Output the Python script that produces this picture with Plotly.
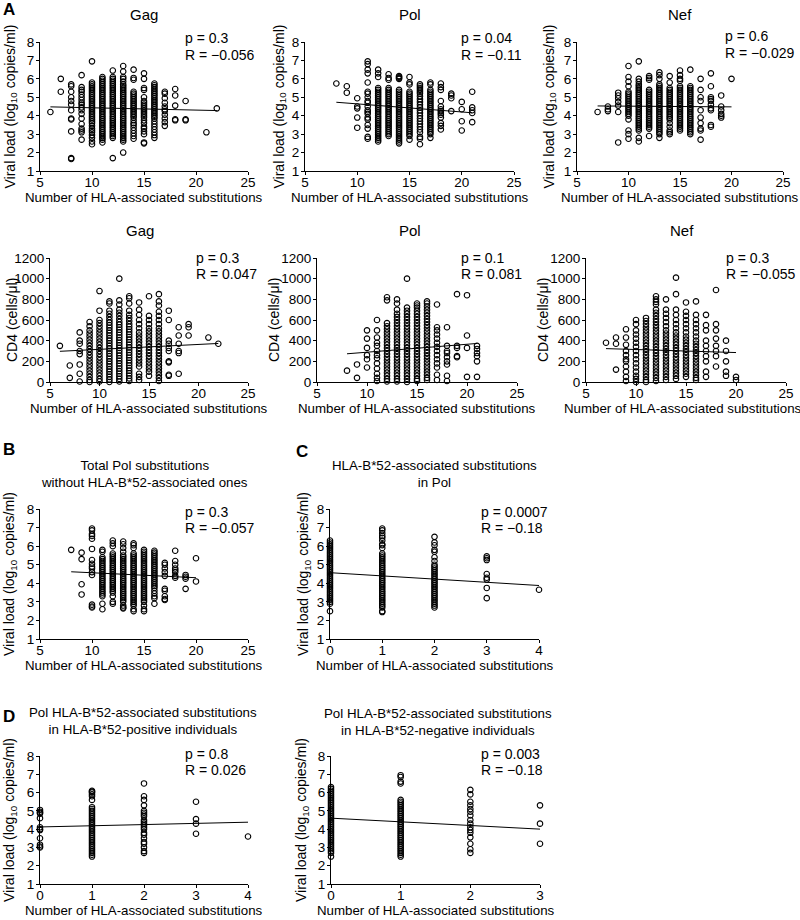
import plotly.graph_objects as go

W, H = 800, 920
FONT = "Liberation Sans, Arial, sans-serif"

## values: {number of substitutions: [y values]}
gag_vl = {
    6: [4.2],
    7: [6.0, 5.3],
    8: [5.7, 5.6, 5.3, 5.0, 4.8, 4.6, 4.3, 3.85, 3.8, 3.15, 1.7, 1.65],
    9: [6.2, 5.55, 5.4, 5.3, 5.15, 5.0, 4.85, 4.7, 4.6, 4.45, 4.3, 4.1, 3.85, 3.55, 3.3, 3.2, 3.1, 2.7],
    10: [6.95, 5.8, 5.7, 5.6, 5.5, 5.4, 5.3, 5.2, 5.1, 5.0, 4.9, 4.8, 4.7, 4.6, 4.5, 4.4, 4.3, 4.2, 4.1, 4.0,
         3.9, 3.8, 3.7, 3.6, 3.45, 3.3, 3.2, 3.1, 2.95, 2.8, 2.6, 2.45],
    11: [6.1, 6.0, 5.9, 5.8, 5.7, 5.6, 5.5, 5.4, 5.3, 5.2, 5.1, 5.0, 4.9, 4.8, 4.7, 4.6, 4.5, 4.4, 4.3, 4.2,
         4.1, 4.0, 3.9, 3.8, 3.7, 3.6, 3.5, 3.4, 3.3, 3.2, 3.1, 3.0, 2.9, 2.8, 2.7, 2.55],
    12: [6.45, 6.1, 6.0, 5.9, 5.8, 5.7, 5.6, 5.5, 5.4, 5.3, 5.2, 5.1, 5.0, 4.9, 4.8, 4.7, 4.6, 4.5, 4.4, 4.3,
         4.2, 4.1, 4.0, 3.9, 3.8, 3.7, 3.6, 3.5, 3.4, 3.3, 3.2, 3.1, 3.0, 2.9, 2.8, 1.7],
    13: [6.7, 6.4, 6.1, 6.0, 5.85, 5.7, 5.6, 5.5, 5.4, 5.3, 5.2, 5.1, 5.0, 4.9, 4.8, 4.7, 4.6, 4.5, 4.4, 4.3,
         4.2, 4.1, 4.0, 3.9, 3.8, 3.7, 3.6, 3.5, 3.4, 3.3, 3.2, 3.1, 3.0, 2.9, 2.8, 2.7, 2.6, 2.0],
    14: [6.5, 6.05, 5.95, 5.3, 5.2, 5.1, 5.0, 4.9, 4.8, 4.7, 4.6, 4.5, 4.4, 4.3, 4.2, 4.1, 4.0, 3.9, 3.75,
         3.6, 3.5, 3.35, 3.2, 3.05, 2.9, 2.75],
    15: [6.3, 6.0, 5.5, 5.4, 5.0, 4.8, 4.7, 4.6, 4.5, 4.4, 4.3, 4.2, 4.1, 4.0, 3.9, 3.75, 3.6, 3.4, 3.3,
         3.15, 3.0, 2.55, 2.5],
    16: [5.75, 5.65, 5.55, 5.45, 5.35, 5.25, 5.15, 5.05, 4.95, 4.85, 4.75, 4.65, 4.55, 4.45, 4.35, 4.25,
         4.15, 4.05, 3.95, 3.85, 3.7, 3.55, 3.4, 3.25, 3.1, 2.95, 2.8],
    17: [5.3, 5.2, 4.95, 4.7, 4.5, 4.35, 4.25, 4.05, 3.85, 3.65, 3.45],
    18: [5.45, 5.1, 4.55, 3.8, 3.75],
    19: [4.8, 3.8, 3.75],
    21: [3.1],
    22: [4.4],
}
pol_vl = {
    8: [5.75],
    9: [5.6, 5.25],
    10: [4.95, 4.5, 4.4, 3.9, 3.35],
    11: [6.95, 6.8, 6.5, 6.3, 5.8, 5.3, 5.2, 5.0, 4.8, 4.7, 4.5, 4.3, 4.2, 4.1, 3.9, 3.8, 3.5, 3.3, 2.85, 2.75],
    12: [6.5, 6.3, 6.1, 5.5, 5.4, 5.3, 5.2, 5.1, 5.0, 4.9, 4.8, 4.7, 4.6, 4.5, 4.4, 4.3, 4.2, 4.1, 4.0, 3.9,
         3.8, 3.7, 3.6, 3.5, 3.4, 3.3, 3.2, 3.1, 3.0, 2.9, 2.8, 2.7, 2.6],
    13: [6.25, 6.05, 5.95, 5.5, 5.4, 5.3, 5.2, 5.1, 5.0, 4.9, 4.8, 4.7, 4.6, 4.5, 4.4, 4.3, 4.2, 4.1, 4.0,
         3.9, 3.8, 3.7, 3.6, 3.5, 3.4, 3.3, 3.2, 3.1, 3.0, 2.9],
    14: [6.15, 6.1, 6.05, 6.0, 5.4, 5.3, 5.2, 5.1, 5.0, 4.9, 4.8, 4.7, 4.6, 4.5, 4.4, 4.3, 4.2, 4.1, 4.0,
         3.9, 3.8, 3.7, 3.6, 3.5, 3.4, 3.3, 3.2, 3.1, 3.0, 2.9, 2.8, 2.7, 2.6, 2.5],
    15: [6.1, 5.8, 5.7, 5.3, 5.2, 5.1, 5.0, 4.9, 4.8, 4.7, 4.6, 4.5, 4.4, 4.3, 4.2, 4.1, 4.0, 3.9, 3.8, 3.7,
         3.6, 3.5, 3.4, 3.3, 3.2, 3.1, 3.0, 2.9, 2.7],
    16: [5.7, 5.6, 5.5, 5.4, 5.3, 5.2, 5.05, 4.9, 4.75, 4.6, 4.45, 4.3, 4.15, 4.0, 3.85, 3.7, 3.55, 3.4,
         3.25, 3.1, 2.85, 2.75, 2.45],
    17: [5.8, 5.7, 5.4, 5.3, 5.2, 5.1, 5.0, 4.9, 4.8, 4.7, 4.6, 4.5, 4.4, 4.3, 4.2, 4.1, 4.0, 3.9, 3.8, 3.7,
         3.6, 3.5, 3.4, 3.3, 3.2, 3.1, 3.0, 2.8],
    18: [5.75, 5.55, 5.4, 4.8, 4.5, 4.35, 4.25, 4.15, 4.05, 3.9, 3.6, 3.45, 3.25],
    19: [5.2, 5.1, 4.95, 4.25],
    20: [4.75, 4.35, 3.7, 3.2],
    21: [5.3, 4.45, 4.3, 4.15, 3.65],
}
nef_vl = {
    7: [4.2],
    8: [4.5, 4.35, 4.25],
    9: [5.25, 5.1, 4.95, 4.75, 4.55, 4.2, 2.55],
    10: [6.7, 6.1, 5.85, 5.6, 5.3, 5.2, 5.1, 5.0, 4.9, 4.8, 4.7, 4.6, 4.5, 4.4, 4.3, 4.2, 4.1, 4.0, 3.8,
         3.2, 3.0, 2.75],
    11: [6.95, 6.0, 5.85, 5.7, 5.6, 5.5, 5.4, 5.3, 5.2, 5.1, 5.0, 4.9, 4.8, 4.7, 4.6, 4.5, 4.4, 4.3, 4.2,
         4.1, 4.0, 3.9, 3.8, 3.7, 3.6, 3.5, 3.4, 3.3, 3.2, 2.8, 2.6],
    12: [6.15, 6.05, 5.95, 5.4, 5.3, 5.2, 5.1, 5.0, 4.9, 4.8, 4.7, 4.6, 4.5, 4.4, 4.3, 4.2, 4.1, 4.0, 3.9,
         3.8, 3.7, 3.6, 3.5, 3.4, 3.3, 2.9],
    13: [6.35, 6.2, 6.0, 5.7, 5.6, 5.5, 5.4, 5.3, 5.2, 5.1, 5.0, 4.9, 4.8, 4.7, 4.6, 4.5, 4.4, 4.3, 4.2,
         4.1, 4.0, 3.9, 3.8, 3.7, 3.6, 3.5, 3.4, 3.3, 3.2, 3.1, 3.0, 2.8],
    14: [6.15, 5.8, 5.5, 5.4, 5.3, 5.2, 5.1, 5.0, 4.9, 4.8, 4.7, 4.6, 4.5, 4.4, 4.3, 4.2, 4.1, 4.0, 3.9,
         3.8, 3.6, 3.4, 3.2, 3.1, 3.0],
    15: [6.45, 6.2, 6.0, 5.9, 5.6, 5.5, 5.4, 5.3, 5.2, 5.1, 5.0, 4.9, 4.8, 4.7, 4.6, 4.5, 4.4, 4.3, 4.2,
         4.1, 4.0, 3.9, 3.8, 3.7, 3.6, 3.5, 3.4, 3.3, 3.2],
    16: [6.5, 5.6, 5.5, 5.4, 5.3, 5.2, 5.1, 5.0, 4.9, 4.8, 4.7, 4.6, 4.5, 4.4, 4.3, 4.2, 4.1, 4.0, 3.9,
         3.8, 3.7, 3.6, 3.5, 3.4, 3.3, 3.2, 3.1, 3.0],
    17: [6.0, 5.4, 5.0, 4.8, 4.3, 3.9, 3.6, 3.3, 3.2, 2.7],
    18: [6.3, 5.6, 5.0, 4.9, 4.8, 4.6, 4.4, 4.3, 3.5, 3.4],
    19: [5.1, 4.5, 4.3, 4.1, 4.0, 3.9],
    20: [6.0],
}
gag_cd4 = {
    6: [350],
    7: [160, 40],
    8: [480, 400, 370, 300, 270, 170, 80, 5],
    9: [580, 540, 500, 470, 440, 410, 380, 350, 320, 290, 260, 230, 200, 170, 140, 110, 80, 50, 20, 0],
    10: [880, 690, 600, 570, 540, 510, 480, 450, 420, 390, 360, 330, 300, 270, 240, 210, 180, 150, 120,
         90, 60, 30, 5],
    11: [780, 760, 690, 660, 630, 600, 575, 550, 525, 500, 475, 450, 425, 400, 375, 350, 325, 300, 275,
         250, 225, 200, 175, 150, 125, 100, 75, 50, 25, 0],
    12: [1000, 790, 750, 700, 670, 640, 610, 580, 555, 530, 505, 480, 455, 430, 405, 380, 355, 330, 305,
         280, 255, 230, 205, 180, 155, 130, 105, 80, 55, 30, 5],
    13: [830, 810, 760, 690, 650, 620, 590, 560, 535, 510, 485, 460, 435, 410, 385, 360, 335, 310, 285,
         260, 235, 210, 185, 160, 135, 110, 85, 60, 35, 10],
    14: [770, 700, 650, 600, 560, 520, 480, 450, 420, 390, 360, 330, 300, 270, 240, 210, 180, 150, 80,
         50, 20],
    15: [830, 640, 600, 560, 520, 490, 460, 430, 400, 370, 340, 310, 280, 250, 220, 190, 160, 130, 100, 60],
    16: [850, 780, 740, 680, 640, 600, 560, 520, 490, 460, 430, 400, 370, 340, 310, 280, 250, 220, 190,
         160, 130, 100, 70, 40, 10],
    17: [690, 600, 400, 370, 330, 300, 200, 190, 70, 60],
    18: [530, 450, 370, 300, 280, 80],
    19: [560, 530, 450],
    21: [430],
    22: [370],
}
pol_cd4 = {
    8: [110],
    9: [170, 40],
    10: [500, 420, 330, 260, 220, 140],
    11: [600, 500, 430, 380, 350, 300, 260, 230, 180, 130, 80, 40, 10],
    12: [820, 790, 570, 540, 510, 480, 450, 420, 390, 360, 330, 300, 270, 240, 210, 180, 150, 120, 90,
         60, 30, 5],
    13: [800, 760, 700, 660, 630, 600, 570, 540, 510, 480, 450, 420, 390, 360, 330, 300, 270, 240, 210,
         180, 150, 120, 90, 60, 30, 5],
    14: [1000, 720, 690, 660, 630, 600, 570, 540, 510, 480, 450, 420, 390, 360, 330, 300, 270, 240, 210,
         180, 150, 120, 90, 60, 30, 0],
    15: [760, 740, 720, 690, 660, 630, 600, 570, 540, 510, 480, 450, 420, 390, 360, 330, 300, 270, 240,
         210, 180, 150, 120, 90, 60, 30, 10],
    16: [780, 760, 730, 700, 670, 640, 610, 580, 550, 520, 490, 460, 430, 400, 370, 340, 310, 280, 250,
         220, 190, 160, 130, 100, 70, 40, 20],
    17: [750, 530, 500, 460, 420, 380, 340, 300, 260, 220, 180, 140, 70, 20],
    18: [530, 350, 300, 280, 240, 200, 170, 60, 10],
    19: [850, 350, 330, 250, 240],
    20: [840, 450, 330, 50],
    21: [350, 320, 280, 250, 200, 50],
}
nef_cd4 = {
    7: [380],
    8: [430, 370, 120],
    9: [510, 430, 360, 300, 260, 220, 200, 150, 100, 50, 10],
    10: [600, 560, 500, 460, 420, 380, 340, 300, 260, 220, 180, 140, 100, 60, 30, 0],
    11: [620, 590, 560, 530, 500, 470, 440, 410, 380, 350, 320, 290, 260, 230, 200, 170, 140, 110, 80,
         50, 20, 0],
    12: [830, 800, 775, 750, 700, 670, 640, 610, 580, 550, 520, 490, 460, 430, 400, 370, 340, 310, 280,
         250, 220, 190, 160, 130, 100, 70, 40, 10],
    13: [800, 700, 660, 620, 580, 540, 500, 470, 440, 410, 380, 350, 320, 290, 260, 230, 200, 170, 140,
         110, 80, 50, 20],
    14: [1010, 850, 700, 650, 600, 560, 520, 480, 450, 420, 390, 360, 330, 300, 270, 240, 210, 180, 150,
         120, 90, 60, 30],
    15: [770, 680, 640, 600, 560, 520, 480, 440, 410, 380, 350, 320, 290, 260, 230, 200, 170, 140, 110,
         80, 50],
    16: [780, 650, 600, 560, 520, 480, 440, 400, 370, 340, 310, 280, 250, 220, 190, 160, 130, 100, 70,
         40, 20],
    17: [650, 550, 500, 400, 350, 300, 250, 200, 100, 50],
    18: [890, 560, 500, 420, 350, 300, 250, 150],
    19: [400, 300, 200, 100, 60],
    20: [50, 20],
}
b_vl = {
    8: [5.8],
    9: [5.65, 5.3, 3.95, 3.4],
    10: [6.95, 6.85, 6.65, 6.55, 6.4, 5.85, 5.25, 5.05, 4.9, 4.8, 4.6, 4.45, 2.85, 2.75, 2.7],
    11: [5.8, 5.7, 5.4, 5.3, 5.2, 5.1, 5.0, 4.9, 4.8, 4.7, 4.6, 4.5, 4.4, 4.3, 4.2, 4.1, 4.0, 3.9, 3.8,
         3.7, 3.6, 3.5, 3.4, 3.3, 2.9, 2.6],
    12: [6.3, 6.15, 6.0, 5.6, 5.5, 5.4, 5.3, 5.2, 5.1, 5.0, 4.9, 4.8, 4.7, 4.6, 4.5, 4.4, 4.3, 4.2, 4.1,
         4.0, 3.9, 3.8, 3.7, 3.6, 3.5, 3.3, 3.0, 2.9],
    13: [6.25, 6.1, 5.9, 5.7, 5.5, 5.4, 5.3, 5.2, 5.1, 5.0, 4.9, 4.8, 4.7, 4.6, 4.5, 4.4, 4.3, 4.2, 4.1,
         4.0, 3.9, 3.8, 3.7, 3.6, 3.5, 3.4, 3.3, 3.2, 3.1, 3.0, 2.8, 2.7, 2.65],
    14: [6.15, 6.05, 5.9, 5.6, 5.5, 5.4, 5.3, 5.2, 5.1, 5.0, 4.9, 4.8, 4.7, 4.6, 4.5, 4.4, 4.3, 4.2, 4.1,
         4.0, 3.9, 3.8, 3.7, 3.6, 3.5, 3.4, 3.3, 3.2, 3.1, 3.0, 2.9, 2.8, 2.6, 2.5],
    15: [5.8, 5.7, 5.6, 5.5, 5.4, 5.3, 5.2, 5.1, 5.0, 4.9, 4.8, 4.7, 4.6, 4.5, 4.4, 4.3, 4.2, 4.1, 4.0,
         3.9, 3.8, 3.7, 3.6, 3.5, 3.4, 3.3, 3.2, 3.1, 3.0, 2.8, 2.6, 2.5],
    16: [5.75, 5.65, 5.55, 5.45, 5.35, 5.25, 5.15, 5.05, 4.95, 4.85, 4.75, 4.65, 4.55, 4.45, 4.35, 4.25,
         4.15, 4.05, 3.95, 3.85, 3.75, 3.6, 3.45, 3.3, 3.2, 2.9],
    17: [5.1, 5.0, 4.8, 4.6, 4.4, 3.7, 3.6, 3.3, 3.15, 3.1],
    18: [5.75, 5.2, 5.0, 4.8, 4.7, 4.6, 4.4, 4.3],
    19: [4.45, 4.35, 4.25, 3.7],
    20: [5.35, 4.1],
}
c_vl = {
    0: [6.3, 6.2, 6.1, 6.0, 5.9, 5.8, 5.7, 5.6, 5.5, 5.4, 5.3, 5.2, 5.1, 5.0, 4.9, 4.8, 4.7, 4.6, 4.5, 4.4,
        4.3, 4.2, 4.1, 4.0, 3.9, 3.8, 3.7, 3.6, 3.5, 3.4, 3.3, 3.2, 3.1, 3.0, 2.9, 2.5],
    1: [6.95, 6.85, 6.7, 6.55, 6.45, 6.3, 6.1, 6.05, 5.9, 5.6, 5.5, 5.4, 5.3, 5.2, 5.1, 5.0, 4.9, 4.8, 4.7,
        4.6, 4.5, 4.4, 4.3, 4.2, 4.1, 4.0, 3.9, 3.8, 3.7, 3.6, 3.5, 3.4, 3.3, 3.2, 3.1, 3.0, 2.9, 2.8, 2.7,
        2.5, 2.45],
    2: [6.5, 6.2, 6.05, 5.8, 5.7, 5.4, 5.2, 5.0, 4.9, 4.8, 4.7, 4.6, 4.5, 4.4, 4.3, 4.2, 4.1, 4.0, 3.9, 3.8,
        3.7, 3.6, 3.5, 3.4, 3.3, 3.2, 3.1, 3.0, 2.9, 2.8, 2.7],
    3: [5.45, 5.35, 5.25, 4.5, 4.3, 4.2, 3.75, 3.2],
    4: [3.65],
}
dpos_vl = {
    0: [5.05, 4.95, 4.9, 4.85, 4.6, 4.1, 4.0, 3.95, 3.5, 3.15, 3.05, 3.0],
    1: [6.1, 6.05, 6.0, 5.9, 5.8, 5.6, 5.2, 5.1, 5.0, 4.9, 4.8, 4.7, 4.6, 4.5, 4.4, 4.3, 4.2, 4.1, 4.0, 3.9,
        3.8, 3.7, 3.6, 3.5, 3.4, 3.3, 3.2, 3.1, 3.0, 2.9, 2.8, 2.7, 2.6, 2.5],
    2: [6.5, 5.8, 5.6, 5.3, 5.0, 4.9, 4.8, 4.7, 4.5, 4.4, 4.3, 4.2, 4.1, 4.0, 3.8, 3.7, 3.5, 3.3, 3.2, 3.0,
        2.8, 2.7],
    3: [5.5, 4.55, 4.3, 3.75],
    4: [3.6],
}
dneg_vl = {
    0: [6.3, 6.2, 6.1, 6.0, 5.9, 5.8, 5.7, 5.6, 5.5, 5.4, 5.3, 5.2, 5.1, 5.0, 4.9, 4.8, 4.7, 4.6, 4.5, 4.4,
        4.3, 4.2, 4.1, 4.0, 3.9, 3.8, 3.7, 3.6, 3.5, 3.4, 3.3, 3.2, 3.1, 3.0, 2.9, 2.8, 2.7, 2.5],
    1: [6.95, 6.85, 6.6, 6.5, 5.6, 5.5, 5.4, 5.3, 5.2, 5.1, 5.0, 4.9, 4.8, 4.7, 4.6, 4.5, 4.4, 4.3, 4.2,
        4.1, 4.0, 3.9, 3.8, 3.7, 3.6, 3.5, 3.4, 3.3, 3.2, 3.1, 3.0, 2.9, 2.8, 2.7, 2.6, 2.5],
    2: [6.15, 5.9, 5.5, 5.3, 5.1, 4.95, 4.75, 4.5, 4.3, 4.1, 3.95, 3.8, 3.55, 3.2, 2.9, 2.7],
    3: [5.3, 4.3, 3.2],
}

## regression lines (end points)
gag_vl_fit = ([6, 22], [4.48, 4.28])
pol_vl_fit = ([8, 21], [4.73, 4.16])
nef_vl_fit = ([7, 20], [4.53, 4.48])
gag_cd4_fit = ([6, 22], [297, 373])
pol_cd4_fit = ([8, 21], [273, 373])
nef_cd4_fit = ([7, 20], [323, 285])
b_fit = ([8, 20], [4.62, 4.30])
c_fit = ([0, 4], [4.57, 3.88])
dpos_fit = ([0, 4], [4.12, 4.38])
dneg_fit = ([0, 3], [4.6, 4.0])

stats = [("p = 0.3", "R = \u22120.056"), ("p = 0.04", "R = \u22120.11"), ("p = 0.6", "R = \u22120.029"),
         ("p = 0.3", "R = 0.047"), ("p = 0.1", "R = 0.081"), ("p = 0.3", "R = \u22120.055"),
         ("p = 0.3", "R = \u22120.057"), ("p = 0.0007", "R = \u22120.18"),
         ("p = 0.8", "R = 0.026"), ("p = 0.003", "R = \u22120.18")]

VL = "Viral load (log<sub>10</sub> copies/ml)"
CD4 = "CD4 (cells/\u03bcl)"
XT = "Number of HLA-associated substitutions"

# data, fit, plot box px (x0,x1,y0,y1), x range/dtick, y range/dtick, ytitle, ytitle x, stats pos
panels = [
    (gag_vl, gag_vl_fit, (40, 248, 42, 171), (5, 25, 5), (1, 8, 1), VL, 11, (183, 38, 55)),
    (pol_vl, pol_vl_fit, (305, 514, 42, 171), (5, 25, 5), (1, 8, 1), VL, 280, (459, 38, 55)),
    (nef_vl, nef_vl_fit, (577, 783, 42, 171), (5, 25, 5), (1, 8, 1), VL, 550, (723, 36, 53)),
    (gag_cd4, gag_cd4_fit, (50, 248, 258, 382), (5, 25, 5), (0, 1200, 200), CD4, 12, (194, 258, 274)),
    (pol_cd4, pol_cd4_fit, (317, 517, 258, 382), (5, 25, 5), (0, 1200, 200), CD4, 274, (459, 258, 274)),
    (nef_cd4, nef_cd4_fit, (586, 786, 258, 382), (5, 25, 5), (0, 1200, 200), CD4, 543, (724, 258, 274)),
    (b_vl, b_fit, (40, 248, 509, 639), (5, 25, 5), (1, 8, 1), VL, 10, (183, 512, 528)),
    (c_vl, c_fit, (330, 539, 509, 639), (0, 4, 1), (1, 8, 1), VL, 304, (479, 512, 528)),
    (dpos_vl, dpos_fit, (40, 248, 756, 884), (0, 4, 1), (1, 8, 1), VL, 10, (183, 754, 770)),
    (dneg_vl, dneg_fit, (331, 540, 756, 884), (0, 3, 1), (1, 8, 1), VL, 302, (479, 754, 770)),
]

titles = [("Gag", 144, 15, 15), ("Pol", 410, 15, 15), ("Nef", 680, 15, 15),
          ("Gag", 140, 230, 15), ("Pol", 410, 230, 15), ("Nef", 682, 230, 15),
          ("Total Pol substitutions<br>without HLA-B*52-associated ones", 144, 474, 13.3),
          ("HLA-B*52-associated substitutions<br>in Pol", 435, 474, 13.3),
          ("Pol HLA-B*52-associated substitutions<br>in HLA-B*52-positive individuals", 143, 721, 13.3),
          ("Pol HLA-B*52-associated substitutions<br>in HLA-B*52-negative individuals", 438, 722, 13.3)]
letters = [("A", 1, 9), ("B", 1, 449), ("C", 294, 451), ("D", 1, 716)]


def px(x):
    return x / W


def py(y):
    return 1 - y / H


fig = go.Figure()
layout = dict(width=W, height=H, margin=dict(l=0, r=0, t=0, b=0, autoexpand=False),
              template="none", plot_bgcolor="white", paper_bgcolor="white", showlegend=False,
              font=dict(family=FONT, color="black"))
ann = []

for i, (d, fit, box, xr, yr, ytitle, ytx, st) in enumerate(panels, start=1):
    xs, ys = [], []
    for k, vals in d.items():
        xs += [k] * len(vals)
        ys += vals
    sfx = "" if i == 1 else str(i)
    fig.add_trace(go.Scatter(x=xs, y=ys, mode="markers", xaxis="x" + sfx, yaxis="y" + sfx,
                             cliponaxis=False,
                             marker=dict(symbol="circle-open", size=5.5, color="black",
                                         line=dict(width=1.1, color="black"))))
    fig.add_trace(go.Scatter(x=fit[0], y=fit[1], mode="lines", xaxis="x" + sfx, yaxis="y" + sfx,
                             line=dict(color="black", width=1)))
    x0, x1, y0, y1 = box
    ax = dict(showline=True, linecolor="black", linewidth=1, ticks="outside", ticklen=3,
              tickcolor="black", tickwidth=1, showgrid=False, zeroline=False, automargin=False,
              tickfont=dict(family=FONT, size=13.5, color="black"))
    layout["xaxis" + sfx] = dict(ax, domain=[px(x0), px(x1)], range=[xr[0], xr[1]], dtick=xr[2],
                                 tick0=xr[0], anchor="y" + sfx, ticklabelstandoff=-4)
    layout["yaxis" + sfx] = dict(ax, domain=[py(y1), py(y0)], range=[yr[0], yr[1]], dtick=yr[2],
                                 tick0=yr[0], anchor="x" + sfx, ticklabelstandoff=-1)
    # axis titles
    ann.append(dict(text=XT, x=px(min((x0 + x1) / 2, 683)), y=py(y1 + 26), xanchor="center",
                    yanchor="middle", font=dict(size=13.3)))
    ann.append(dict(text=ytitle, x=px(ytx), y=py((y0 + y1) / 2), textangle=-90, xanchor="center",
                    yanchor="middle", font=dict(size=14)))
    ann.append(dict(text=stats[i - 1][0], x=px(st[0]), y=py(st[1]), xanchor="left", yanchor="middle",
                    font=dict(size=14)))
    ann.append(dict(text=stats[i - 1][1], x=px(st[0]), y=py(st[2]), xanchor="left", yanchor="middle",
                    font=dict(size=14)))

for t, x, y, s in titles:
    ann.append(dict(text=t, x=px(x), y=py(y), xanchor="center", yanchor="middle", font=dict(size=s)))
for t, x, y in letters:
    ann.append(dict(text="<b>%s</b>" % t, x=px(x), y=py(y), xanchor="left", yanchor="middle",
                    font=dict(size=17)))

for a in ann:
    a.update(xref="paper", yref="paper", showarrow=False)
layout["annotations"] = ann
fig.update_layout(**layout)

# page body has a default 8px margin; remove it so the figure fills the window
fig.write_html("out.html", config={"displayModeBar": False},
               post_script="document.body.style.margin='0';document.body.style.overflow='hidden';")
